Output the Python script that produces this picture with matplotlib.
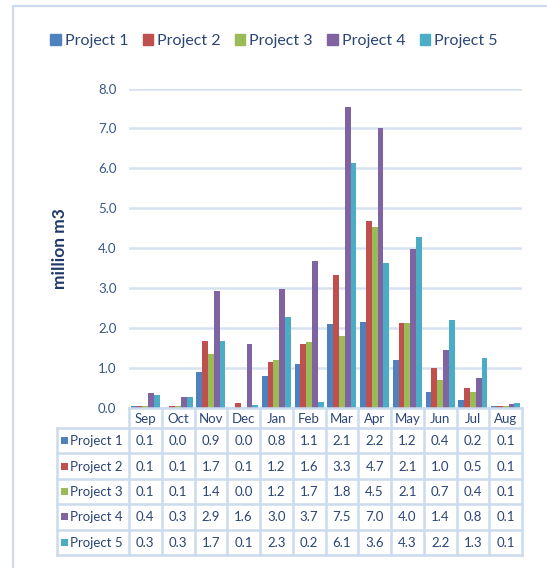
import matplotlib
matplotlib.use("Agg")
import matplotlib.pyplot as plt
from matplotlib.patches import Rectangle
from matplotlib.lines import Line2D
import numpy as np

months = ["Sep", "Oct", "Nov", "Dec", "Jan", "Feb", "Mar", "Apr", "May", "Jun", "Jul", "Aug"]
series_names = ["Project 1", "Project 2", "Project 3", "Project 4", "Project 5"]
project1 = [0.06, 0.01, 0.89, 0.0, 0.79, 1.09, 2.11, 2.16, 1.21, 0.41, 0.21, 0.06]
project2 = [0.06, 0.06, 1.69, 0.12, 1.16, 1.59, 3.34, 4.67, 2.14, 1.01, 0.51, 0.06]
project3 = [0.06, 0.06, 1.36, 0.0, 1.19, 1.66, 1.81, 4.52, 2.14, 0.69, 0.41, 0.06]
project4 = [0.37, 0.27, 2.94, 1.61, 2.97, 3.67, 7.53, 7.0, 3.99, 1.44, 0.76, 0.11]
project5 = [0.32, 0.27, 1.69, 0.07, 2.29, 0.16, 6.14, 3.62, 4.29, 2.21, 1.26, 0.13]
series = [project1, project2, project3, project4, project5]
colors = ["#4F81BD", "#C0504D", "#9BBB59", "#8064A2", "#4BACC6"]
yticks = [0.0, 1.0, 2.0, 3.0, 4.0, 5.0, 6.0, 7.0, 8.0]

W, H = 547, 568
fig = plt.figure(figsize=(W / 100, H / 100), dpi=100)
plt.rcParams['font.family'] = ['Lato', 'DejaVu Sans']

def fx(x):
    return x / W

def fy(y):
    return 1 - y / H

text_col = "#2B4574"
tick_col = "#3A5587"
grid_col = "#D7E2F1"
line_col = "#CCDBEE"

# outer frame (right and bottom edges fall outside the image)
fig.add_artist(Rectangle((fx(13), fy(700)), 700 / W, (700 - 6) / H,
                         transform=fig.transFigure, fill=False, edgecolor=line_col, lw=1.6))

L, R, T, B = 129, 522, 88.5, 408
ax = fig.add_axes([fx(L), fy(B), (R - L) / W, (B - T) / H])
n = len(months)
x = np.arange(n)
bw = 0.177
for i, (vals, c) in enumerate(zip(series, colors)):
    ax.bar(x + (i - 2) * bw, vals, width=bw, color=c, edgecolor='none', zorder=3)
ax.set_xlim(-0.5, n - 0.5)
ax.set_ylim(0, 8)
ax.set_yticks(yticks)
ax.set_yticklabels([f"{v:.1f}" for v in yticks], color=tick_col, fontsize=9.5)
ax.tick_params(axis='y', length=0, pad=9)
ax.set_xticks([])
for s in ax.spines.values():
    s.set_visible(False)
ax.grid(axis='y', color=grid_col, lw=1.8, zorder=0)
ax.set_axisbelow(True)
ax.patch.set_visible(False)

fig.text(fx(60), fy(249), "million m3", rotation=90, ha='center', va='center',
         fontsize=12.5, fontweight='bold', color="#1F3A68")

# legend
handles = [Rectangle((0, 0), 1, 1, color=c) for c in colors]
fig.legend(handles, series_names, loc='center', bbox_to_anchor=(fx(274), fy(41)), ncol=5,
           frameon=False, fontsize=11.5, handlelength=0.65, handleheight=0.65,
           handletextpad=0.25, columnspacing=0.9, labelcolor=text_col)

# data table
TL = 57
head_top, head_bot = 408, 428
row_h = (555 - 428) / 5
cw = (R - L) / n
lw = 1.8

def hline(x0, x1, y):
    fig.add_artist(Line2D([fx(x0), fx(x1)], [fy(y), fy(y)], transform=fig.transFigure,
                          color=line_col, lw=lw))

def vline(xp, y0, y1):
    fig.add_artist(Line2D([fx(xp), fx(xp)], [fy(y0), fy(y1)], transform=fig.transFigure,
                          color=line_col, lw=lw))

hline(L, R, head_top)
for j in range(6):
    hline(TL, R, head_bot + j * row_h)
for k in range(n + 1):
    vline(L + k * cw, head_top, 555)
vline(TL, head_bot, 555)

for k, m in enumerate(months):
    fig.text(fx(L + (k + 0.5) * cw), fy((head_top + head_bot) / 2 + 1), m, ha='center', va='center',
             fontsize=9.5, color=text_col)

for j, (name, vals, c) in enumerate(zip(series_names, series, colors)):
    yc = head_bot + (j + 0.5) * row_h
    fig.add_artist(Rectangle((fx(TL + 4), fy(yc + 3.5)), 7 / W, 7 / H, transform=fig.transFigure,
                             color=c, lw=0))
    fig.text(fx(TL + 13), fy(yc + 0.5), name, ha='left', va='center', fontsize=9.5, color=text_col)
    for k, v in enumerate(vals):
        fig.text(fx(L + (k + 0.5) * cw), fy(yc + 0.5), f"{v:.1f}", ha='center', va='center',
                 fontsize=9.5, color=text_col)

fig.savefig("out.png", dpi=100)
